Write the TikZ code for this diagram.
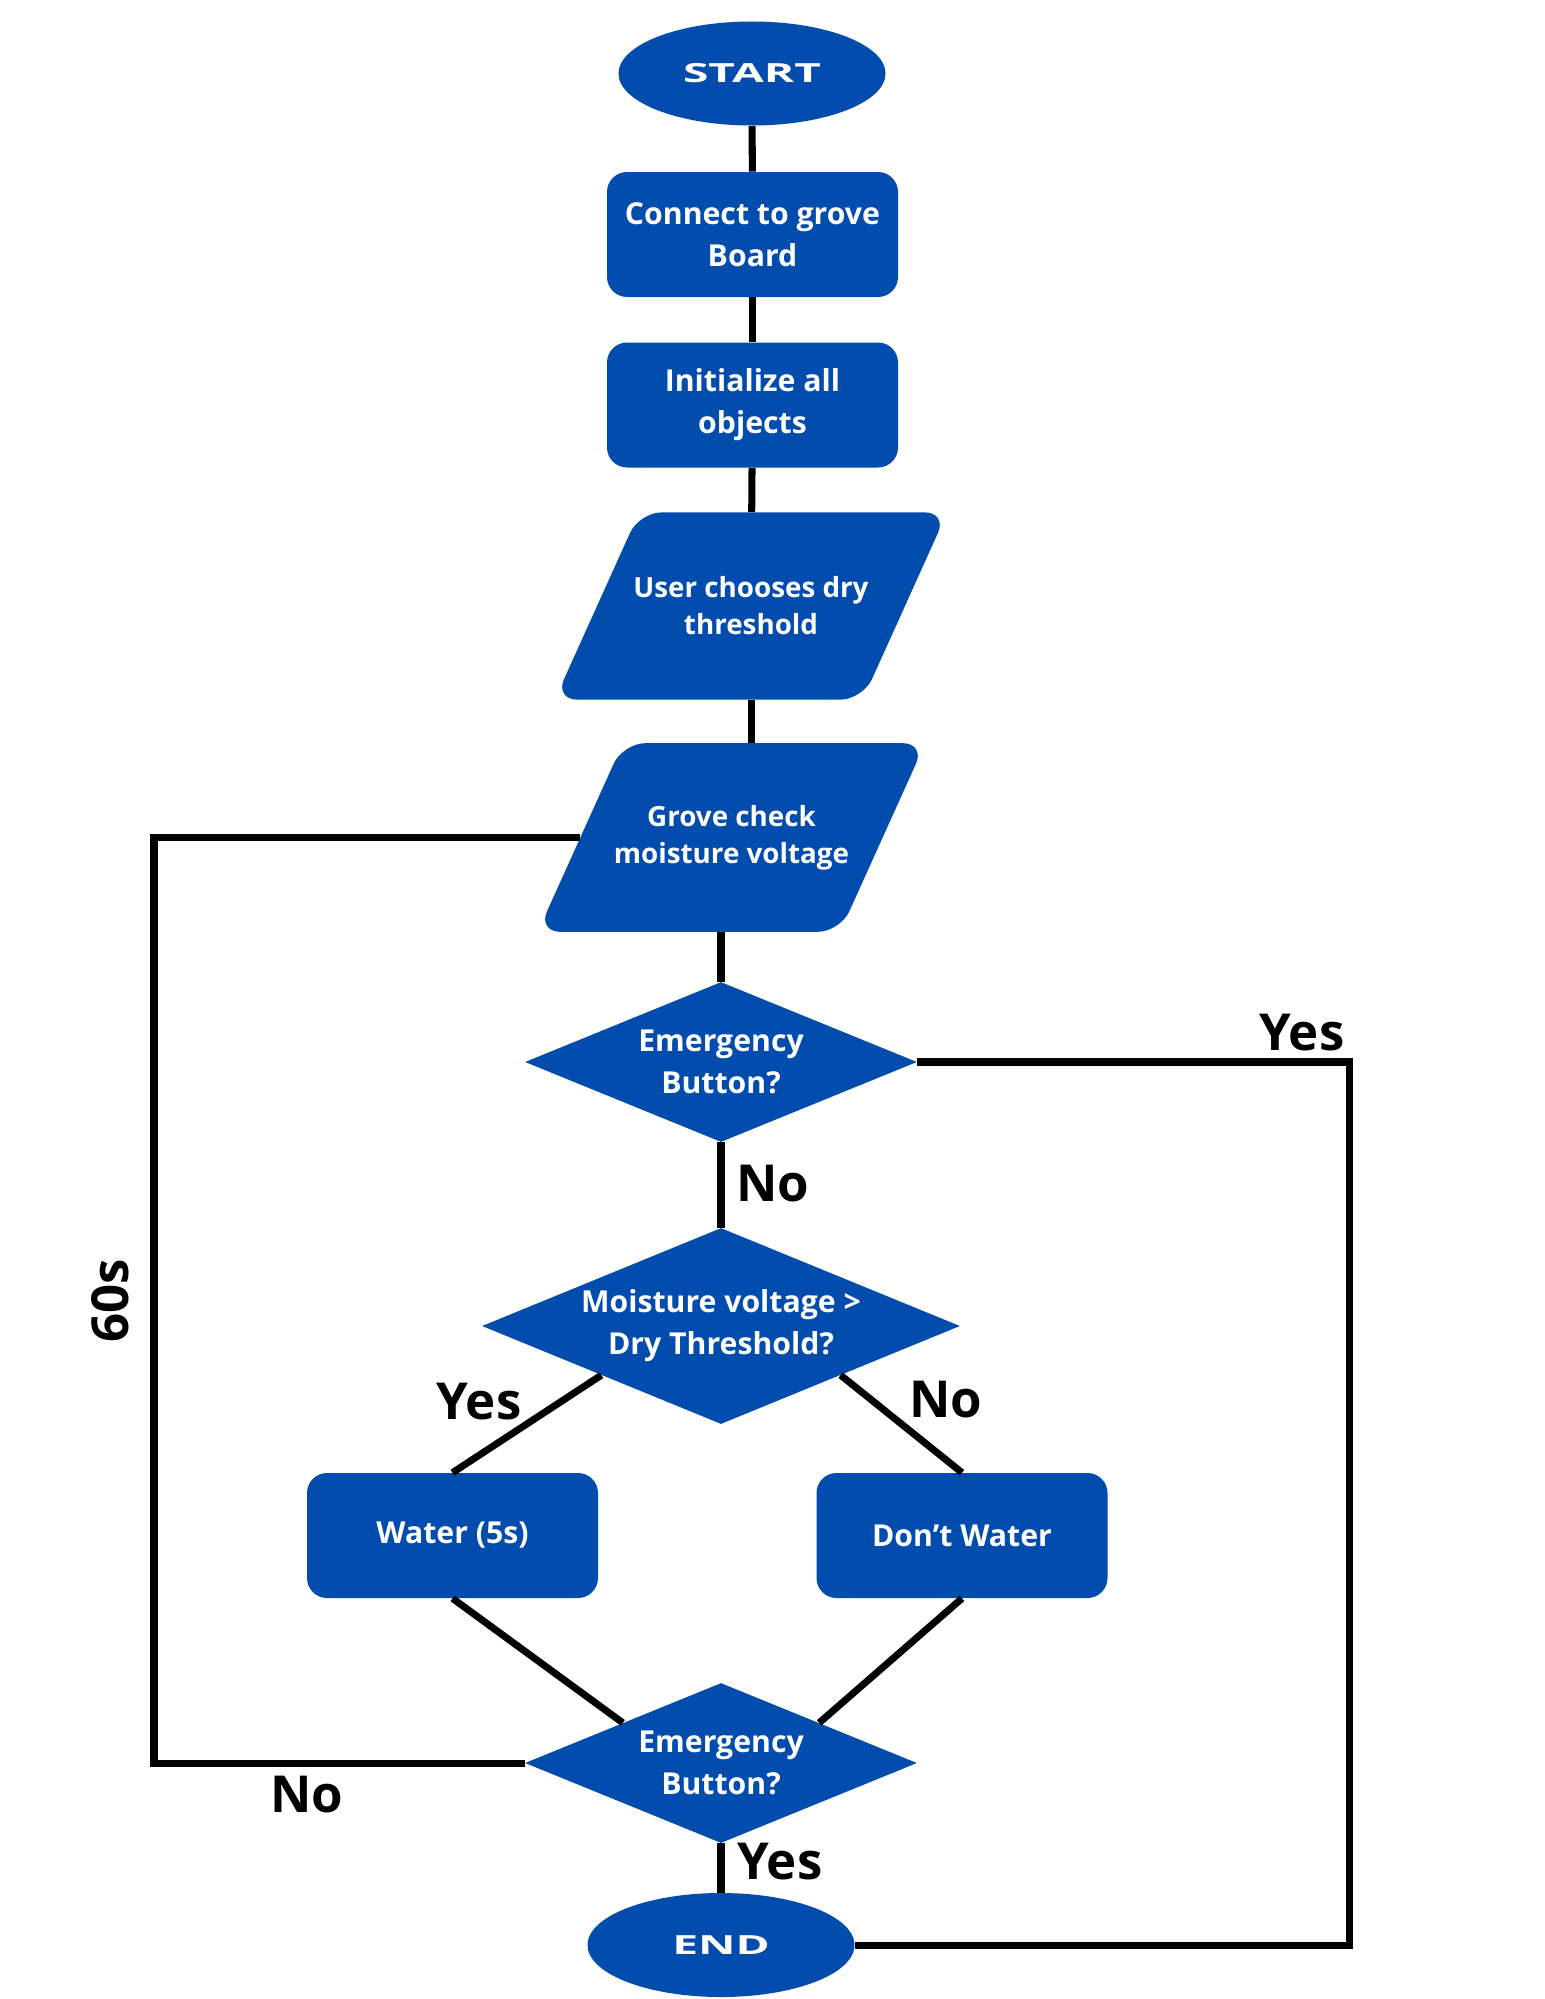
\documentclass[tikz,border=0pt]{standalone}
\usepackage{fontspec}
\setmainfont{Open Sans}
\usepackage{graphicx}
\usetikzlibrary{shapes.geometric,calc}
\definecolor{flowblue}{RGB}{2,76,173}

\begin{document}
\begin{tikzpicture}[
  font=\bfseries\fontsize{17.2}{24}\selectfont,
  term/.style={ellipse, fill=flowblue, text=white, minimum width=5.34cm, minimum height=2.08cm, inner sep=0pt, font=\bfseries\fontsize{15}{17}\selectfont},
  proc/.style={rectangle, rounded corners=0.4cm, fill=flowblue, text=white, minimum width=5.82cm, minimum height=2.5cm, align=center, inner sep=0pt},
  iobox/.style={trapezium, trapezium left angle=65.7, trapezium right angle=114.3, trapezium stretches body, rounded corners=0.45cm, fill=flowblue, text=white, minimum width=7.85cm, minimum height=3.72cm, align=center, inner xsep=-0.6cm, inner ysep=1.29cm, font=\bfseries\fontsize{15.8}{21}\selectfont},
  decision/.style={diamond, shape aspect=2.45, fill=flowblue, text=white, minimum width=7.84cm, minimum height=3.2cm, align=center, inner sep=0pt},
  link/.style={line width=4pt, black},
  answer/.style={font=\bfseries\fontsize{29}{32}\selectfont, inner sep=0pt}
]
\useasboundingbox (0,0) rectangle (30.9,-39.98);

\node[term] (start) at (15.04,-1.47) {\scalebox{1.75}[1]{START}};
\node[proc] (connect) at (15.05,-4.69) {Connect to grove\\Board};
\node[proc] (init) at (15.05,-8.10) {Initialize all\\objects};
\node[iobox] (choose) at (15.02,-12.12) {User chooses dry\\threshold};
\node[iobox, minimum width=7.75cm, inner ysep=1.24cm] (check) at (14.63,-16.75) {Grove check\\moisture voltage};
\node[decision] (emerg1) at (14.42,-21.24) {Emergency\\Button?};
\node[decision, minimum width=9.56cm, minimum height=3.92cm] (moist) at (14.42,-26.52) {Moisture voltage >\\Dry Threshold?};
\node[proc] (water) at (9.05,-30.71) {Water (5s)};
\node[proc] (dont) at (19.24,-30.71) {Don’t Water};
\node[decision] (emerg2) at (14.42,-35.26) {Emergency\\Button?};
\node[term] (end) at (14.42,-38.90) {\scalebox{1.75}[1]{END}};

\coordinate (leftloop) at (3.08,0);
\coordinate (rightloop) at (26.98,0);

\draw[link] (start) -- (connect);
\draw[link] (connect) -- (init);
\draw[link] (init) -- (choose);
\draw[link] (choose.south) -- (choose.south |- check.north);
\draw[link] (emerg1.north |- check.south) -- (emerg1);
\draw[link] (emerg1) -- (moist);
\draw[link] (moist.south west) -- (water.north);
\draw[link] (moist.south east) -- (dont.north);
\draw[link] (water.south) -- (emerg2.north west);
\draw[link] (dont.south) -- (emerg2.north east);
\draw[link] (emerg2) -- (end);
\draw[link] (emerg2.west) -- (emerg2.west -| leftloop) |- (check.west);
\draw[link] (end.east) -| (rightloop |- emerg1.east) -- (emerg1.east);

\node[answer] (yesA) at (26.04,-20.66) {Yes};
\node[answer] (noA) at (15.46,-23.68) {No};
\node[answer] (yesB) at (9.58,-28.04) {Yes};
\node[answer] (noB) at (18.92,-28.00) {No};
\node[answer] (noC) at (6.14,-35.90) {No};
\node[answer] (yesC) at (15.60,-37.24) {Yes};
\node[answer, rotate=90] (wait) at (2.20,-26.02) {60s};
\end{tikzpicture}
\end{document}
